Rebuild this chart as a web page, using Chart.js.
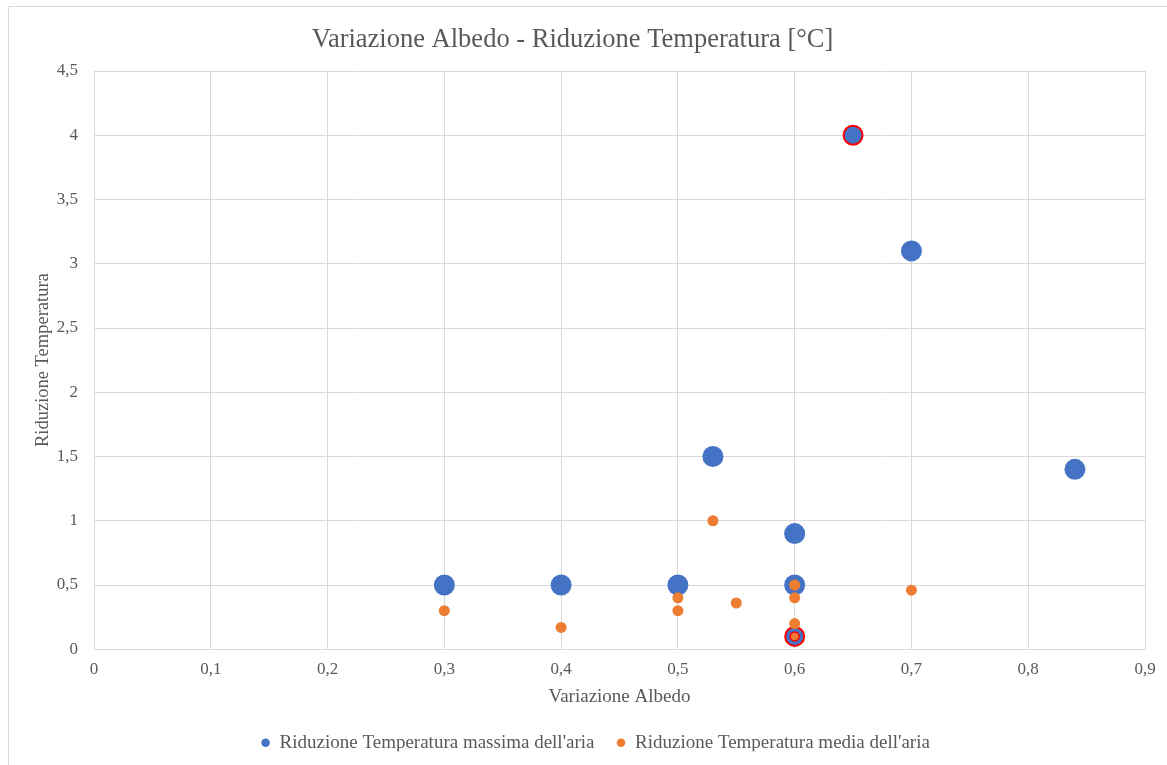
<!DOCTYPE html>
<html>
<head>
<meta charset="utf-8">
<title>Variazione Albedo - Riduzione Temperatura</title>
<script src="https://cdn.jsdelivr.net/npm/chart.js@4/dist/chart.umd.min.js"></script>
<style>
  html, body { margin: 0; padding: 0; background: #fff; }
  #wrap { position: relative; width: 1167px; height: 765px; overflow: hidden; }
  #frame { position: absolute; left: 8px; top: 6px; width: 1200px; height: 800px;
           border: 1px solid #d9d9d9; pointer-events: none; }
  canvas { position: absolute; left: 0; top: 0; }
</style>
</head>
<body>
<div id="wrap">
  <canvas id="albedoChart" width="1167" height="765"></canvas>
  <div id="frame"></div>
</div>
<script>
// albedo change (x) vs temperature reduction (y)
const maxAlbedo = [0.3, 0.4, 0.5, 0.53, 0.6, 0.6, 0.6, 0.65, 0.7, 0.84];
const maxReduction = [0.5, 0.5, 0.5, 1.5, 0.9, 0.5, 0.1, 4.0, 3.1, 1.4];
const maxHighlight = [false, false, false, false, false, false, true, true, false, false];

const meanAlbedo = [0.3, 0.4, 0.5, 0.5, 0.53, 0.55, 0.6, 0.6, 0.6, 0.6, 0.7];
const meanReduction = [0.3, 0.17, 0.4, 0.3, 1.0, 0.36, 0.5, 0.4, 0.2, 0.1, 0.46];
const meanHighlight = [false, false, false, false, false, false, false, false, false, true, false];

const seriesNames = ["Riduzione Temperatura massima dell'aria", "Riduzione Temperatura media dell'aria"];

const BLUE = '#4472C4';
const ORANGE = '#ED7D31';
const RED = '#FF0000';
const GRID = '#d9d9d9';
const TEXT = '#595959';
const FONT = "'Liberation Serif', 'Times New Roman', serif";

function toPoints(xs, ys) {
  return xs.map((x, i) => ({x: x, y: ys[i]}));
}

// decimal comma, as in Italian locale
function comma(v) {
  return String(+Number(v).toFixed(1)).replace('.', ',');
}

// wide gap between legend items, but keep the legend box itself short,
// and nudge it right a little
const legendTweak = {
  id: 'legendTweak',
  afterInit(chart) {
    const legend = chart.legend;
    const fit = legend.fit;
    legend.fit = function () {
      fit.call(this);
      this.height = 40;
    };
  },
  afterLayout(chart) {
    chart.legend.left += 23;
    chart.legend.right += 23;
  }
};

const ctx = document.getElementById('albedoChart');
new Chart(ctx, {
  type: 'scatter',
  data: {
    datasets: [
      {
        label: seriesNames[0],
        data: toPoints(maxAlbedo, maxReduction),
        backgroundColor: BLUE,
        borderColor: maxHighlight.map(h => h ? RED : BLUE),
        borderWidth: maxHighlight.map(h => h ? 2 : 0),
        pointRadius: maxHighlight.map(h => h ? 9.5 : 10.5),
        pointHoverRadius: 10.5,
        order: 2
      },
      {
        label: seriesNames[1],
        data: toPoints(meanAlbedo, meanReduction),
        backgroundColor: ORANGE,
        borderColor: meanHighlight.map(h => h ? RED : ORANGE),
        borderWidth: meanHighlight.map(h => h ? 1.5 : 0),
        pointRadius: meanHighlight.map(h => h ? 4.5 : 5.5),
        pointHoverRadius: 5.5,
        order: 1
      }
    ]
  },
  plugins: [legendTweak],
  options: {
    responsive: false,
    animation: false,
    layout: { padding: { left: 0, right: 22, top: 0, bottom: 13.75 } },
    plugins: {
      title: {
        display: true,
        text: 'Variazione Albedo - Riduzione Temperatura [°C]',
        color: TEXT,
        font: { family: FONT, size: 26.5, weight: 'normal' },
        padding: { top: 24, bottom: 15.2 }
      },
      legend: {
        position: 'bottom',
        labels: {
          usePointStyle: true,
          pointStyle: 'circle',
          boxWidth: 9,
          boxHeight: 6,
          padding: 22,
          color: TEXT,
          font: { family: FONT, size: 19 },
          sort: (a, b) => a.datasetIndex - b.datasetIndex
        }
      },
      tooltip: { enabled: false }
    },
    scales: {
      x: {
        type: 'linear',
        min: 0,
        max: 0.9,
        afterFit: s => { s.height = 62; },
        ticks: { stepSize: 0.1, padding: 10, color: TEXT, font: { family: FONT, size: 17 },
                 callback: v => comma(v) },
        grid: { color: GRID, drawTicks: false },
        border: { color: GRID },
        title: {
          display: true,
          text: 'Variazione Albedo',
          color: TEXT,
          font: { family: FONT, size: 19 },
          padding: { top: 0, bottom: 2.8 }
        }
      },
      y: {
        type: 'linear',
        min: 0,
        max: 4.5,
        afterFit: s => { s.width = 94; },
        ticks: { stepSize: 0.5, padding: 16, color: TEXT, font: { family: FONT, size: 17 },
                 callback: v => comma(v) },
        grid: { color: GRID, drawTicks: false },
        border: { color: GRID },
        title: {
          display: true,
          text: 'Riduzione Temperatura',
          color: TEXT,
          font: { family: FONT, size: 18.5 },
          padding: { top: 32, bottom: 0 }
        }
      }
    }
  }
});
</script>
</body>
</html>
